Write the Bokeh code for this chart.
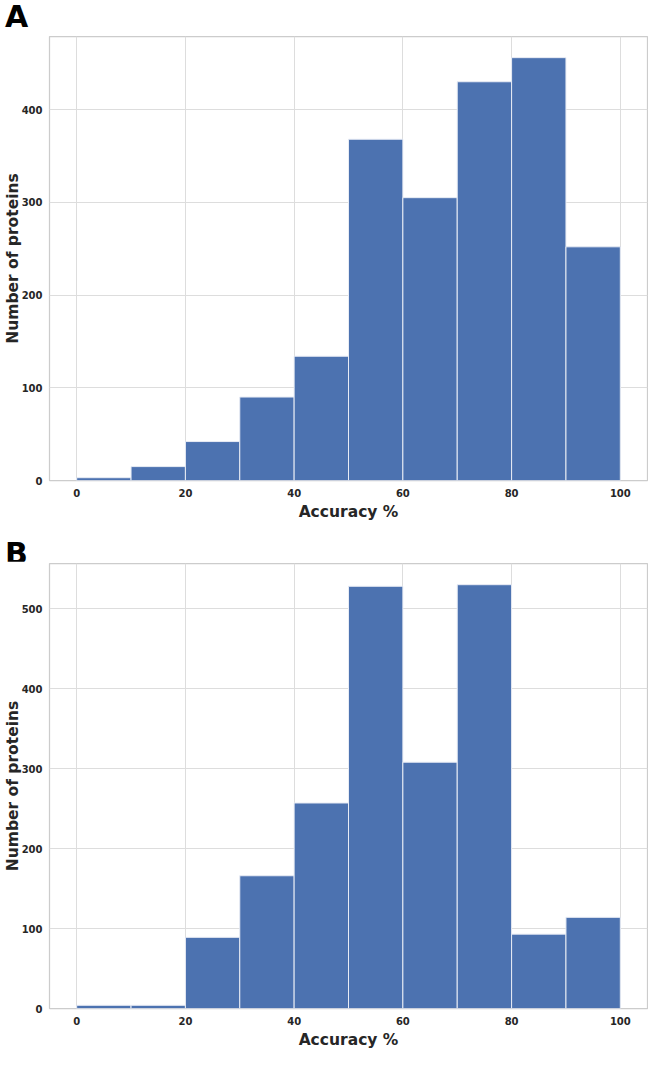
from bokeh.plotting import figure
from bokeh.layouts import column
from bokeh.models import Range1d, FixedTicker, Div
from bokeh.embed import file_html
from bokeh.resources import INLINE

bin_edges = [0, 10, 20, 30, 40, 50, 60, 70, 80, 90, 100]
counts_a = [3, 15, 42, 90, 134, 368, 305, 430, 456, 252]
counts_b = [4, 4, 89, 166, 257, 528, 308, 530, 93, 114]
x_ticks = [0, 20, 40, 60, 80, 100]
y_ticks_a = [0, 100, 200, 300, 400]
y_ticks_b = [0, 100, 200, 300, 400, 500]
panel_labels = ["A", "B"]

FONT = "DejaVu Sans"
TXT = "#262626"
FRAME_H = 445
W = 648


def make_letter(letter, height, pad_top):
    html = ('<div style="font-family:\'DejaVu Sans\';font-weight:bold;font-size:30px;'
            'line-height:30px;color:black;padding:%dpx 0 0 5px;margin:0">%s</div>'
            % (pad_top, letter))
    return Div(text=html, width=W, height=height, margin=(0, 0, 0, 0))


def make_panel(counts, yticks, bottom_border):
    ymax = max(counts) * 1.05
    p = figure(width=W, height=2 + FRAME_H + bottom_border,
               output_backend="svg", toolbar_location=None,
               x_range=Range1d(-5, 105), y_range=Range1d(0, ymax),
               min_border_left=20, min_border_right=1,
               min_border_top=2, min_border_bottom=bottom_border)
    p.quad(left=bin_edges[:-1], right=bin_edges[1:], bottom=0, top=counts,
           fill_color="#4c72b0", line_color="#e8ecf5", line_width=1)
    p.xaxis.ticker = FixedTicker(ticks=x_ticks)
    p.yaxis.ticker = FixedTicker(ticks=yticks)
    for ax in (p.xaxis[0], p.yaxis[0]):
        ax.axis_line_color = None
        ax.major_tick_line_color = None
        ax.minor_tick_line_color = None
        ax.major_tick_out = 0
        ax.major_tick_in = 0
        ax.minor_tick_out = 0
        ax.minor_tick_in = 0
        ax.major_label_text_font = FONT
        ax.major_label_text_font_style = "bold"
        ax.major_label_text_font_size = "10px"
        ax.major_label_text_color = TXT
        ax.axis_label_text_font = FONT
        ax.axis_label_text_font_style = "bold"
        ax.axis_label_text_font_size = "15.5px"
        ax.axis_label_text_color = TXT
        ax.axis_label_text_line_height = 1.0
    p.xaxis.axis_label = "Accuracy %"
    p.yaxis.axis_label = "Number of proteins"
    p.xaxis.major_label_standoff = 8
    p.xaxis.axis_label_standoff = 3
    p.yaxis.major_label_standoff = 7
    p.yaxis.axis_label_standoff = -3
    p.grid.grid_line_color = "#dddddd"
    p.grid.grid_line_width = 1
    p.outline_line_color = "#cccccc"
    p.outline_line_width = 1.25
    p.background_fill_color = "white"
    return p


div_a = make_letter(panel_labels[0], 34, 2)
pa = make_panel(counts_a, y_ticks_a, 42)
div_b = make_letter(panel_labels[1], 38, 16)
pb = make_panel(counts_b, y_ticks_b, 44)
layout = column(div_a, pa, div_b, pb, spacing=0)
open("out.html", "w").write(file_html(layout, INLINE))
